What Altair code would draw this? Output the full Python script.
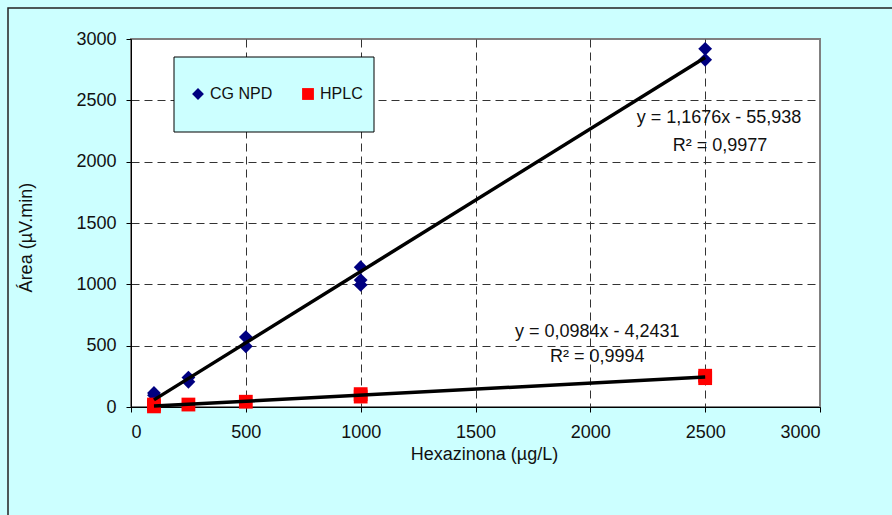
import altair as alt
import pandas as pd

# ---- data ----
conc_cg = [100, 100, 250, 250, 500, 500, 1000, 1000, 1000, 2500, 2500]
area_cg = [115, 95, 240, 205, 570, 495, 1140, 1035, 995, 2920, 2830]
conc_hplc = [100, 100, 250, 500, 1000, 1000, 2500, 2500]
area_hplc = [20, 5, 20, 43, 105, 85, 255, 235]
series = ["CG NPD", "HPLC"]
colors = ["#000080", "#FF0000"]
shapes = ["diamond", "square"]
ticks = [0, 500, 1000, 1500, 2000, 2500, 3000]

eq_text = ["y = 1,1676x - 55,938", "R² = 0,9977", "y = 0,0984x - 4,2431", "R² = 0,9994"]
eq_x = [2560, 2565, 2030, 2030]
eq_y = [2356, 2128, 611, 408]

df = pd.DataFrame({
    "conc": conc_cg + conc_hplc,
    "area": area_cg + area_hplc,
    "serie": [series[0]] * len(conc_cg) + [series[1]] * len(conc_hplc),
})
eq_df = pd.DataFrame({"t": eq_text, "tx": eq_x, "ty": eq_y})
one = pd.DataFrame({"a": [0]})

FONT = "Liberation Sans"

x_axis = alt.Axis(
    values=ticks, format="d", title="Hexazinona (µg/L)", grid=True,
    gridColor="#333333", gridDash=[8, 5], gridWidth=1,
    gridOpacity=alt.condition("datum.value == 3000", alt.value(0), alt.value(1)),
    domainColor="black", domainWidth=1, tickColor="black", tickSize=5,
    labelFont=FONT, labelFontSize=18, labelColor="#111", labelPadding=11,
    titleFont=FONT, titleFontSize=18, titleFontWeight="normal", titleColor="#111",
    titleX=353, titleY=38, titleBaseline="top", titleAlign="center",
)
y_axis = alt.Axis(
    values=ticks, format="d", title="Área (µV.min)", grid=True,
    gridColor="#333333", gridDash=[8, 5], gridWidth=1,
    gridOpacity=alt.condition("datum.value == 3000", alt.value(0), alt.value(1)),
    domainColor="black", domainWidth=1, tickColor="black", tickSize=5,
    labelFont=FONT, labelFontSize=18, labelColor="#111", labelPadding=10,
    titleFont=FONT, titleFontSize=18, titleFontWeight="normal", titleColor="#111",
    titleX=-105, titleY=198, titleAngle=270, titleBaseline="middle", titleAlign="center",
)

xs = alt.Scale(domain=[0, 3000], nice=False)
ys = alt.Scale(domain=[0, 3000], nice=False)

legend = alt.Legend(
    orient="none", legendX=59, legendY=47, direction="horizontal", title=None,
    labelFont=FONT, labelFontSize=16, labelColor="#111", labelOffset=4,
    symbolSize=140, symbolStrokeWidth=0, columnPadding=27, padding=0,
)

frame = alt.Chart(one).mark_rect(fillOpacity=0, stroke="#222", strokeWidth=1.5).encode(
    x=alt.value(-123), x2=alt.value(1000), y=alt.value(-31), y2=alt.value(1000)
)
legbox = alt.Chart(one).mark_rect(fill="#CCFFFF", stroke="black", strokeWidth=1).encode(
    x=alt.value(43), x2=alt.value(243), y=alt.value(18), y2=alt.value(93)
)

points = alt.Chart(df).mark_point(filled=True, opacity=1, size=190).encode(
    x=alt.X("conc:Q", scale=xs, axis=x_axis),
    y=alt.Y("area:Q", scale=ys, axis=y_axis),
    color=alt.Color("serie:N", scale=alt.Scale(domain=series, range=colors), legend=legend),
    shape=alt.Shape("serie:N", scale=alt.Scale(domain=series, range=shapes), legend=legend),
)

lines = alt.Chart(df).transform_regression(
    "conc", "area", groupby=["serie"]
).mark_line(color="black", strokeWidth=3.5).encode(
    x=alt.X("conc:Q", scale=xs),
    y=alt.Y("area:Q", scale=ys),
    detail="serie:N",
)

texts = alt.Chart(eq_df).mark_text(
    font=FONT, fontSize=18, color="#111", align="center", baseline="middle"
).encode(
    x=alt.X("tx:Q", scale=xs),
    y=alt.Y("ty:Q", scale=ys),
    text="t:N",
)

chart = alt.layer(frame, legbox, points, lines, texts).properties(
    width=689, height=368,
    background="#CCFFFF",
    padding={"left": 131, "top": 39, "right": 72, "bottom": 108},
    autosize=alt.AutoSizeParams(type="none"),
).configure_view(
    stroke="#808080", strokeWidth=2, fill="white"
)

chart.save("out.html", embed_options={"renderer": "svg", "actions": False})
